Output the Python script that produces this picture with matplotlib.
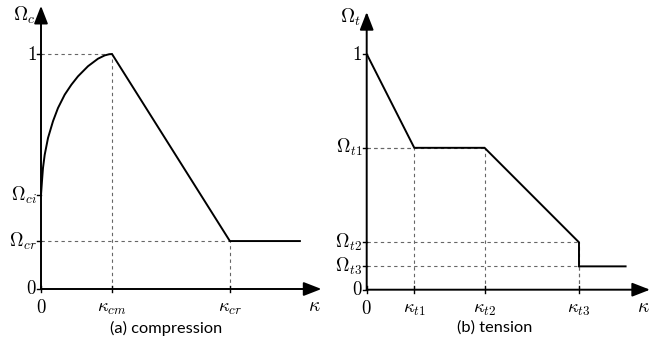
import numpy as np
import matplotlib.pyplot as plt
from matplotlib.patches import FancyArrowPatch

plt.rcParams['mathtext.fontset'] = 'cm'

# compression branch (x in units of kappa_cm)
comp_x = [0.0, 0.014, 0.028, 0.052, 0.099, 0.169, 0.239, 0.334, 0.427, 0.521,
          0.662, 0.803, 0.897, 0.96, 1.0, 2.66, 3.66]
comp_y = [0.40, 0.46, 0.515, 0.571, 0.643, 0.714, 0.770, 0.827, 0.869, 0.905,
          0.948, 0.980, 0.994, 0.999, 1.0, 0.204, 0.204]
comp_xticks = [0.0, 1.0, 2.66]
comp_xlabels = ['$0$', r'$\kappa_{cm}$', r'$\kappa_{cr}$']
comp_yticks = [0.0, 0.204, 0.40, 1.0]
comp_ylabels = ['$0$', r'$\Omega_{cr}$', r'$\Omega_{ci}$', '$1$']
comp_guides = [(1.0, 1.0), (2.66, 0.204)]

# tension branch
tens_x = [0.0, 0.67, 1.66, 2.99, 2.99, 3.66]
tens_y = [1.0, 0.602, 0.602, 0.201, 0.099, 0.099]
tens_xticks = [0.0, 0.67, 1.66, 2.99]
tens_xlabels = ['$0$', r'$\kappa_{t1}$', r'$\kappa_{t2}$', r'$\kappa_{t3}$']
tens_yticks = [0.0, 0.099, 0.201, 0.602, 1.0]
tens_ylabels = ['$0$', r'$\Omega_{t3}$', r'$\Omega_{t2}$', r'$\Omega_{t1}$', '$1$']
tens_guides = [(0.67, 0.602), (1.66, 0.602), (2.99, 0.201), (2.99, 0.099)]

W, H = 663, 344
fig = plt.figure(figsize=(W / 100, H / 100), dpi=100)


def make_axes(x0, x1, yt, yb, ox, oy, ux, uy):
    ax = fig.add_axes([x0 / W, (H - yb) / H, (x1 - x0) / W, (yb - yt) / H])
    ax.set_xlim((x0 - ox) / ux, (x1 - ox) / ux)
    ax.set_ylim((oy - yb) / uy, (oy - yt) / uy)
    ax.axis('off')
    return ax


def draw_panel(ax, xs, ys, xticks, xlabels, yticks, ylabels, guides,
               xtip, ytip, ylab, ylab_y, caption, cap_x):
    dash = dict(color='#666666', lw=0.8, dashes=(3, 3))
    for gx, gy in guides:
        ax.plot([0, gx], [gy, gy], **dash)
        ax.plot([gx, gx], [0, gy], **dash)
    ax.plot(xs, ys, color='black', lw=1.4, solid_capstyle='butt', solid_joinstyle='miter')
    for tip in [(xtip, 0), (0, ytip)]:
        arr = FancyArrowPatch((0, 0), tip, arrowstyle='-|>,head_length=0.9,head_width=0.35',
                              mutation_scale=12, color='black', lw=1.4,
                              shrinkA=0, shrinkB=0, clip_on=False)
        ax.add_patch(arr)
    for t, lab in zip(xticks, xlabels):
        ax.plot([t, t], [-0.014, 0.014], color='black', lw=1.0, clip_on=False)
        ax.text(t, -0.04, lab, ha='center', va='top', fontsize=13.5)
    for t, lab in zip(yticks, ylabels):
        ax.plot([-0.05, 0], [t, t], color='black', lw=1.0, clip_on=False)
        ax.text(-0.06, t, lab, ha='right', va='center', fontsize=13.5)
    ax.text(-0.075, ylab_y, ylab, ha='right', va='center', fontsize=14)
    ax.text(xtip - 0.1, -0.03, r'$\kappa$', ha='center', va='top', fontsize=14)
    fig.text(cap_x / W, 1 - 328 / H, caption, ha='center', va='center',
             fontsize=11.8, family='Lato')


ax1 = make_axes(0, 331, 0, 330, 41, 289, 71, 235)
draw_panel(ax1, comp_x, comp_y, comp_xticks, comp_xlabels, comp_yticks, comp_ylabels,
           comp_guides, 3.95, 1.205, r'$\Omega_c$', 1.165, '(a) compression', 166)

ax2 = make_axes(332, 663, 0, 330, 366.7, 289.7, 71, 235.7)
draw_panel(ax2, tens_x, tens_y, tens_xticks, tens_xlabels, tens_yticks, tens_ylabels,
           tens_guides, 3.99, 1.178, r'$\Omega_t$', 1.155, '(b) tension', 495)

fig.savefig('out.png', dpi=100)
